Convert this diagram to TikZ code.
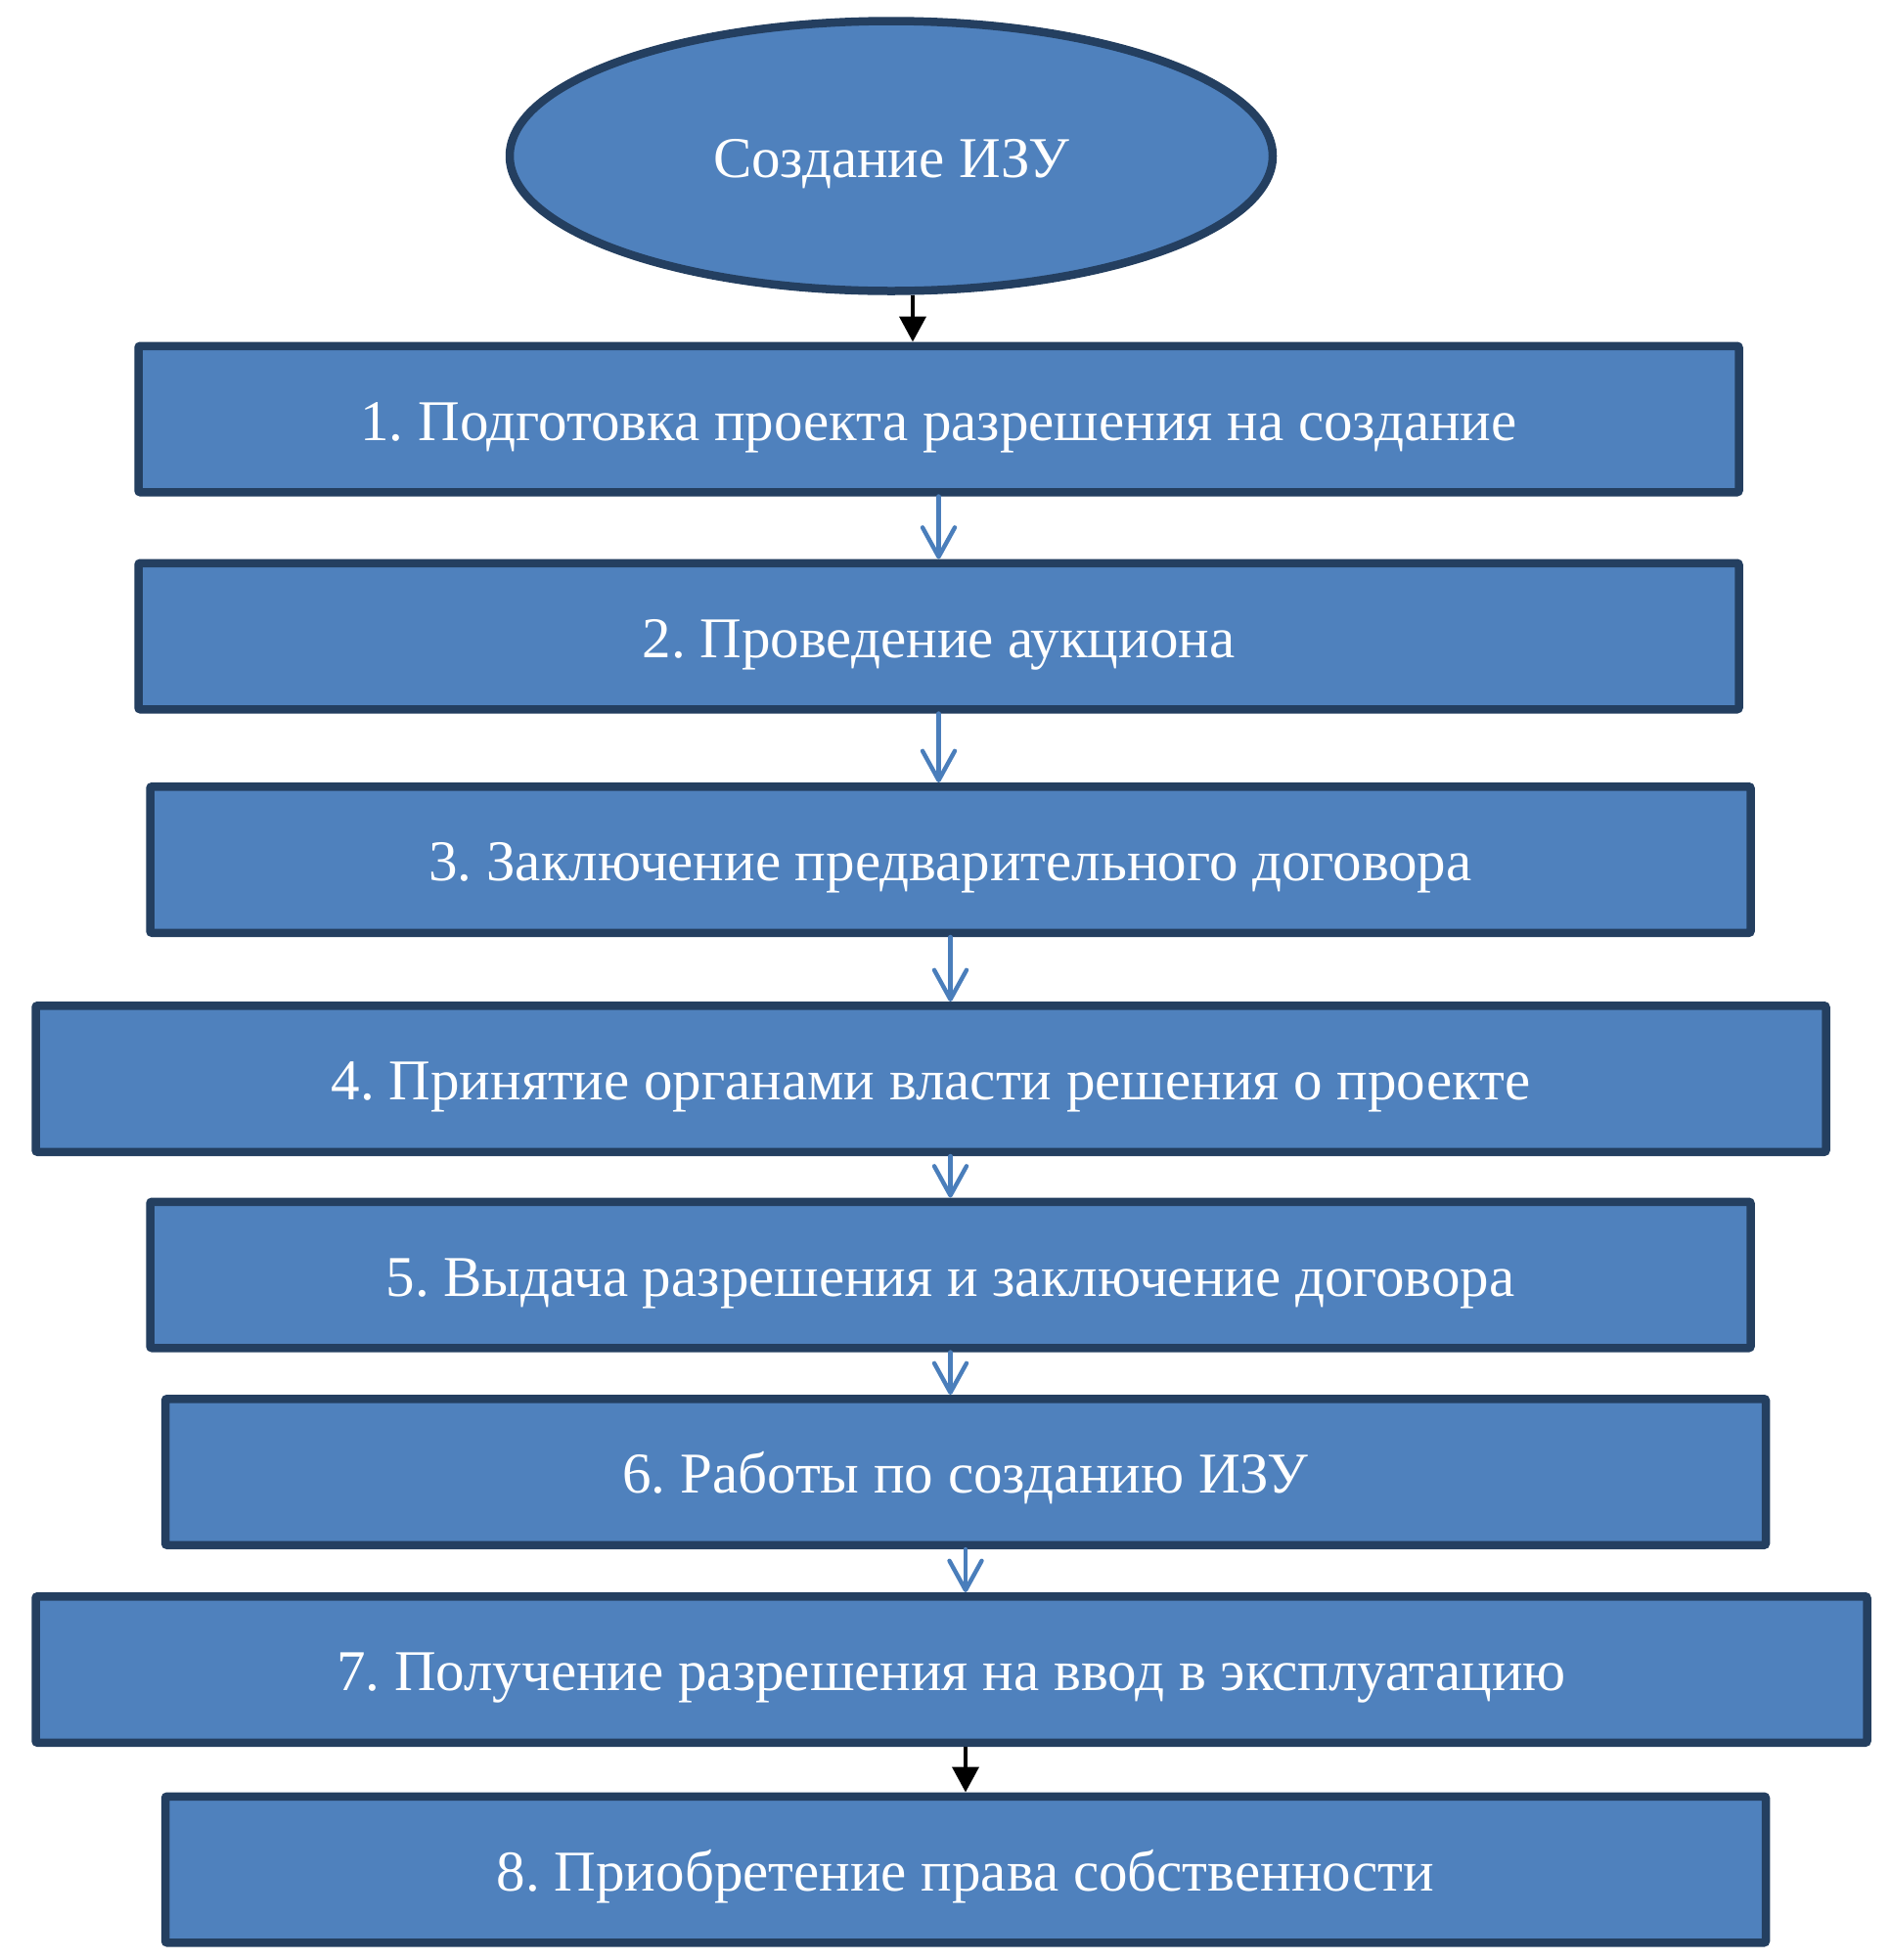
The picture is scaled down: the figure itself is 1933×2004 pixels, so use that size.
\documentclass[tikz,border=0pt]{standalone}
\usepackage{fontspec}
\setmainfont{Liberation Serif}
\usetikzlibrary{arrows.meta, positioning, shapes.geometric}
\frenchspacing

\definecolor{boxfill}{HTML}{4F81BD}
\definecolor{boxline}{HTML}{243F60}
\definecolor{flowblue}{HTML}{4A7EBB}

\begin{document}
\begin{tikzpicture}[
  x=0.5pt, y=-0.5pt,
  every node/.style={text=white, font=\fontsize{29.5}{36}\selectfont, text height=21.5pt, text depth=0pt},
  startnode/.style={ellipse, draw=boxline, fill=boxfill, line width=4.25pt, minimum width=390pt, minimum height=138pt, inner sep=0pt},
  stagebox/.style={draw=boxline, fill=boxfill, line width=4.25pt, rounded corners=1pt, minimum width=818pt, minimum height=74.75pt, inner sep=0pt},
  flowarrow/.style={-{Straight Barb[length=15pt, width=16.5pt, round]}, line width=2.2pt, line cap=round, flowblue},
  blackarrow/.style={-{Triangle[length=13pt, width=13.5pt]}, line width=2pt, black}
]
  \useasboundingbox (0,0) rectangle (1933,2004);

  \node[startnode] (start) at (911,159.5) {Создание ИЗУ};

  \node[stagebox] (s1) at (959.5,428.5) {1. Подготовка проекта разрешения на создание};
  \node[stagebox] (s2) at (959.5,650.5) {2. Проведение аукциона};
  \node[stagebox] (s3) at (971.5,879) {3. Заключение предварительного договора};
  \node[stagebox, minimum width=915pt] (s4) at (951.5,1103) {4. Принятие органами власти решения о проекте};
  \node[stagebox] (s5) at (971.5,1303.5) {5. Выдача разрешения и заключение договора};
  \node[stagebox] (s6) at (987,1505) {6. Работы по созданию ИЗУ};
  \node[stagebox, minimum width=936pt] (s7) at (972.5,1707) {7. Получение разрешения на ввод в эксплуатацию};
  \node[stagebox] (s8) at (987,1911.5) {8. Приобретение права собственности};

  \draw[blackarrow] ([xshift=11pt]start.south) -- ([xshift=11pt]start.south |- s1.north);
  \draw[flowarrow] (s1.south) -- (s1.south |- s2.north);
  \draw[flowarrow] (s2.south) -- (s2.south |- s3.north);
  \draw[flowarrow] (s3.south) -- (s3.south |- s4.north);
  \draw[flowarrow] (s5.north |- s4.south) -- (s5.north);
  \draw[flowarrow] (s5.south) -- (s5.south |- s6.north);
  \draw[flowarrow] (s6.south) -- (s6.south |- s7.north);
  \draw[blackarrow] (s8.north |- s7.south) -- (s8.north);
\end{tikzpicture}
\end{document}
